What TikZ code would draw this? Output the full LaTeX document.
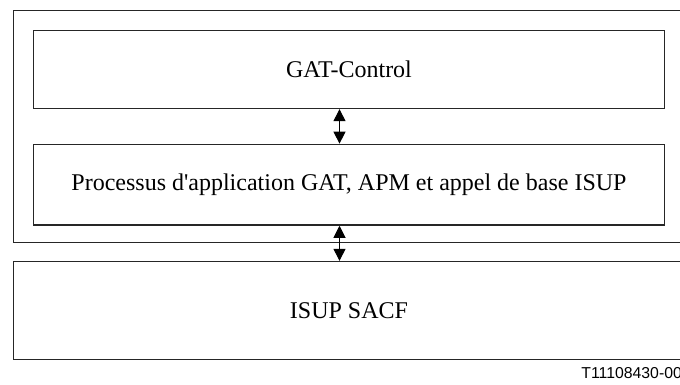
\documentclass[tikz,border=0pt]{standalone}
\usepackage{fontspec}
\setmainfont{Liberation Serif}
\newfontfamily\labelfont{Liberation Sans}
\usetikzlibrary{arrows.meta}
\begin{document}
\begin{tikzpicture}[x=0.5pt,y=-0.5pt,
  box/.style={draw=black!85,line width=0.65pt,inner sep=0pt,font=\fontsize{12}{14}\selectfont},
  dblarrow/.style={line width=0.5pt,{Triangle[width=6pt,length=6pt]}-{Triangle[width=6pt,length=6pt]}}]
\useasboundingbox (0,0) rectangle (680,385);
\clip (0,0) rectangle (680,385);
\fill[white] (0,0) rectangle (680,385);
\node[box,minimum width=335.6pt,minimum height=116pt] (outer) at (349,126.7) {};
\node[box,minimum width=315.6pt,minimum height=38.9pt] (gat) at (349,69.6) {GAT-Control};
\node[box,minimum width=315.6pt,minimum height=40.4pt] (proc) at (349,184.7) {Processus d\textquotesingle application GAT, APM et appel de base ISUP};
\node[box,minimum width=335.6pt,minimum height=48.9pt] (sacf) at (349,310.4) {ISUP SACF};
\coordinate (ax) at (339.5,0);
\draw[dblarrow] (gat.south -| ax) -- (proc.north -| ax);
\draw[dblarrow] (proc.south -| ax) -- (sacf.north -| ax);
\node[anchor=base west,inner sep=0pt,font=\labelfont\fontsize{7.9}{9}\selectfont] (ref) at (581,378.5) {T11108430-00};
\end{tikzpicture}
\end{document}
